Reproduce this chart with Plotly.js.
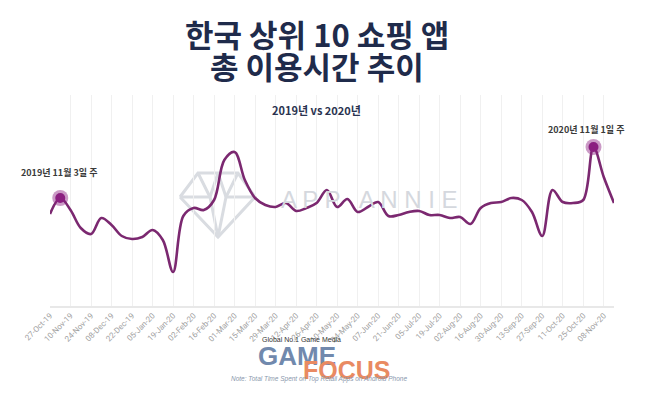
<!DOCTYPE html>
<html>
<head>
<meta charset="utf-8">
<script src="https://cdn.plot.ly/plotly-3.0.1.min.js"></script>
<style>html,body{margin:0;padding:0;background:#fff;}#chart{width:660px;height:398px;}</style>
</head>
<body>
<div id="chart"></div>
<script>
// Weekly data (week starting), relative total time spent index
const weeks = [
  '2019-10-27','2019-11-03','2019-11-10','2019-11-17','2019-11-24','2019-12-01','2019-12-08','2019-12-15',
  '2019-12-22','2019-12-29','2020-01-05','2020-01-12','2020-01-19','2020-01-26','2020-02-02','2020-02-09',
  '2020-02-16','2020-02-23','2020-03-01','2020-03-08','2020-03-15','2020-03-22','2020-03-29','2020-04-05',
  '2020-04-12','2020-04-19','2020-04-26','2020-05-03','2020-05-10','2020-05-17','2020-05-24','2020-05-31',
  '2020-06-07','2020-06-14','2020-06-21','2020-06-28','2020-07-05','2020-07-12','2020-07-19','2020-07-26',
  '2020-08-02','2020-08-09','2020-08-16','2020-08-23','2020-08-30','2020-09-06','2020-09-13','2020-09-20',
  '2020-09-27','2020-10-04','2020-10-11','2020-10-18','2020-10-25','2020-11-01','2020-11-08','2020-11-15'
];
const timeSpent = [
  92,108,96,78,72,88,81,70,
  67,69,76,66,34,90,98,96,
  106,146,154,126,108,101,99,103,
  95,98,103,116,99,107,94,99,
  104,90,91,94,95,91,91,88,
  89,82,98,103,104,108,106,94,
  70,116,104,103,106,159,129,103
];
const highlightIdx = [1, 53];
const highlightLabels = ['2019년 11월 3일 주', '2020년 11월 1일 주'];

const L = 50, R = 46, T = 95, B = 92, W = 660, H = 398;
const pw = W - L - R, ph = H - T - B;
const px = x => (x - L) / pw;
const py = y => (H - B - y) / ph;

const purple = '#7b2870';

// diamond watermark (decoration) in pixel coords
const gem = [
  [[180,197],[198,173],[238,173],[255,197],[218,237],[180,197]],
  [[180,197],[210,197]],[[226,197],[255,197]],
  [[198,173],[210,197],[218,237]],[[238,173],[226,197],[218,237]],
  [[210,197],[218,173]],[[226,197],[218,173]]
];
const shapes = gem.map(seg => ({
  type: 'path', xref: 'paper', yref: 'paper', layer: 'below',
  path: seg.map((p, i) => (i ? 'L' : 'M') + px(p[0]).toFixed(4) + ',' + py(p[1]).toFixed(4)).join(' '),
  line: {color: '#d9dce1', width: 3}
}));

const traces = [
  {x: weeks, y: timeSpent, type: 'scatter', mode: 'lines',
   line: {color: purple, width: 2.6, shape: 'spline', smoothing: 1}, hoverinfo: 'skip'},
  {x: highlightIdx.map(i => weeks[i]), y: highlightIdx.map(i => timeSpent[i]), type: 'scatter', mode: 'markers',
   marker: {size: 16, color: 'rgba(139,31,128,0.45)'}, hoverinfo: 'skip'},
  {x: highlightIdx.map(i => weeks[i]), y: highlightIdx.map(i => timeSpent[i]), type: 'scatter', mode: 'markers',
   marker: {size: 10, color: '#8b1f80'}, hoverinfo: 'skip'}
];

const cjk = '"Noto Sans CJK KR", "Noto Sans", sans-serif';
const annotations = [
  {text: '<b>한국 상위 10 쇼핑 앱</b>', xref: 'paper', yref: 'paper', x: px(317), y: py(33), showarrow: false,
   xanchor: 'center', yanchor: 'middle', font: {family: cjk, size: 31, color: '#1f2b4b'}},
  {text: '<b>총 이용시간 추이</b>', xref: 'paper', yref: 'paper', x: px(317), y: py(65), showarrow: false,
   xanchor: 'center', yanchor: 'middle', font: {family: cjk, size: 31, color: '#1f2b4b'}},
  {text: '<b>2019년 vs 2020년</b>', xref: 'paper', yref: 'paper', x: px(316), y: py(110), showarrow: false,
   xanchor: 'center', yanchor: 'middle', font: {family: cjk, size: 11, color: '#2a3350'}},
  {text: 'A P P   A N N I E', xref: 'paper', yref: 'paper', x: px(369), y: py(199), showarrow: false,
   xanchor: 'center', yanchor: 'middle', font: {family: 'Liberation Sans, Arial, sans-serif', size: 24, color: '#d5d8de'}},
  {text: '<b>' + highlightLabels[0] + '</b>', x: weeks[highlightIdx[0]], y: timeSpent[highlightIdx[0]], showarrow: false,
   xanchor: 'center', yanchor: 'middle', xshift: -1, yshift: 26, font: {family: cjk, size: 9, color: '#3a3a3a'}},
  {text: '<b>' + highlightLabels[1] + '</b>', x: weeks[highlightIdx[1]], y: timeSpent[highlightIdx[1]], showarrow: false,
   xanchor: 'center', yanchor: 'middle', xshift: -7, yshift: 18, font: {family: cjk, size: 9, color: '#3a3a3a'}},
  {text: 'Global No.1 Game Media', xref: 'paper', yref: 'paper', x: px(301), y: py(339), showarrow: false,
   xanchor: 'center', yanchor: 'middle', font: {family: 'Liberation Sans, Arial, sans-serif', size: 7, color: '#333'}},
  {text: '<b>GAME</b>', xref: 'paper', yref: 'paper', x: px(297), y: py(356), showarrow: false,
   xanchor: 'center', yanchor: 'middle', font: {family: 'Liberation Sans, Arial, sans-serif', size: 26, color: '#7189ad'}},
  {text: '<b>FOCUS</b>', xref: 'paper', yref: 'paper', x: px(347), y: py(370), showarrow: false,
   xanchor: 'center', yanchor: 'middle', font: {family: 'Liberation Sans, Arial, sans-serif', size: 25, color: '#e98a62'}},
  {text: '<i>Note: Total Time Spent on Top Retail Apps on Android Phone</i>', xref: 'paper', yref: 'paper', x: px(319), y: py(379), showarrow: false,
   xanchor: 'center', yanchor: 'middle', font: {family: 'Liberation Sans, Arial, sans-serif', size: 6.5, color: '#8a98ad'}}
];

const layout = {
  width: W, height: H,
  margin: {l: L, r: R, t: T, b: B, pad: 0},
  paper_bgcolor: '#fff', plot_bgcolor: '#fff',
  showlegend: false,
  xaxis: {
    type: 'date', range: [weeks[0], weeks[weeks.length - 1]],
    tick0: weeks[0], dtick: 14 * 86400000, tickformat: '%d-%b-%y', tickangle: -45,
    showgrid: true, gridcolor: '#f0f0f0', gridwidth: 1,
    showline: true, linecolor: '#e8e8e8', linewidth: 2,
    zeroline: false, ticks: '', ticklen: 0,
    tickfont: {family: 'Roboto, "Open Sans", sans-serif', size: 8, color: '#a0a0a0'},
    fixedrange: true
  },
  yaxis: {range: [0, 211], showgrid: false, zeroline: false, showline: false, showticklabels: false, ticks: '', fixedrange: true},
  shapes: shapes,
  annotations: annotations
};

Plotly.newPlot('chart', traces, layout, {displayModeBar: false, staticPlot: true});
</script>
</body>
</html>
